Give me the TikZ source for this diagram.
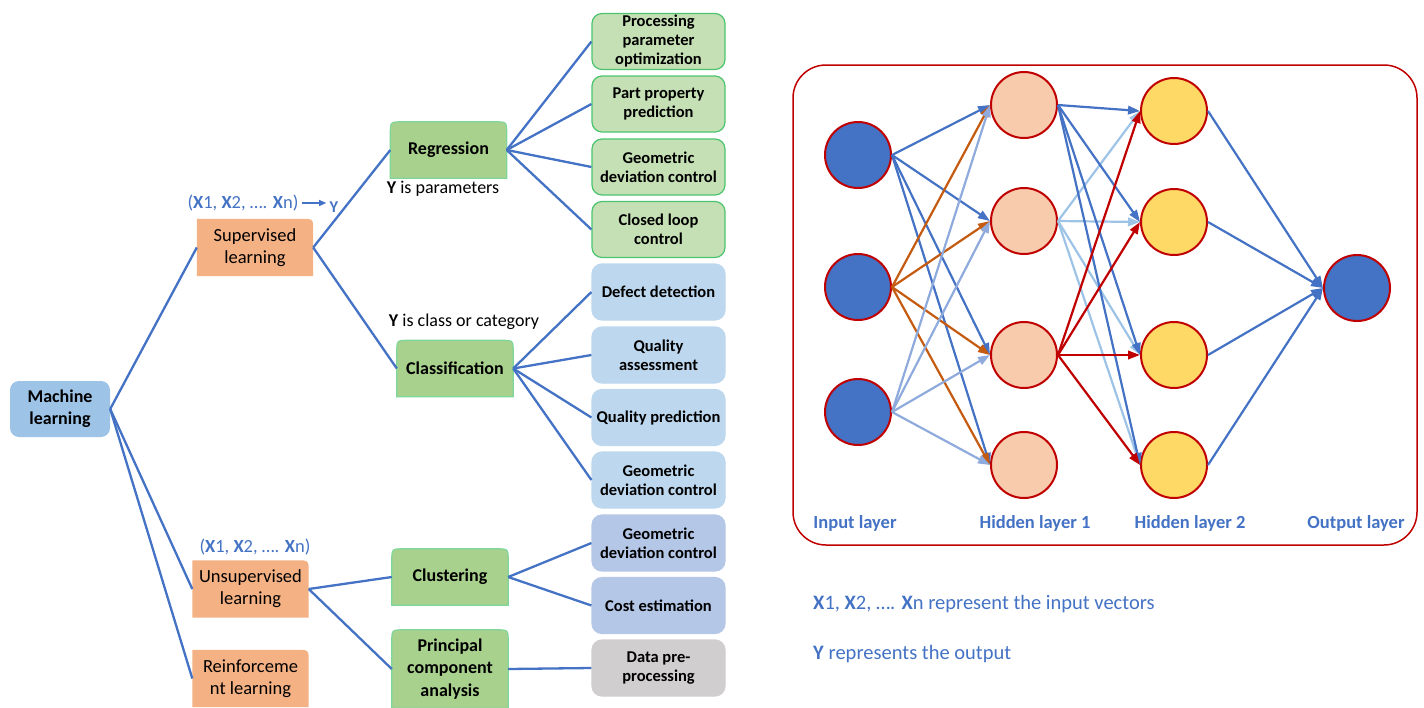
\documentclass[tikz,border=0pt]{standalone}
\usepackage{fontspec}
\setmainfont{Carlito}
\usetikzlibrary{arrows.meta,backgrounds}

\definecolor{lineblue}{HTML}{4472C4}
\definecolor{mlblue}{HTML}{9DC3E6}
\definecolor{supor}{HTML}{F4B183}
\definecolor{midgreen}{HTML}{A9D18E}
\definecolor{midedge}{HTML}{7ED69A}
\definecolor{leafgreen}{HTML}{C5E0B4}
\definecolor{leafedge}{HTML}{4CC46F}
\definecolor{leafblue}{HTML}{BDD7EE}
\definecolor{leafblueb}{HTML}{B4C7E7}
\definecolor{leafgrey}{HTML}{D0CECE}
\definecolor{nnred}{HTML}{C00000}
\definecolor{nnorange}{HTML}{C55A11}
\definecolor{nnlight}{HTML}{8FAADC}
\definecolor{nnpale}{HTML}{9DC3E6}
\definecolor{hidA}{HTML}{F8CBAD}
\definecolor{hidB}{HTML}{FFD966}

\tikzset{
  mlbox/.style={fill=mlblue, rounded corners=9pt, minimum width=100pt, minimum height=56pt,
    align=center, inner sep=0pt, font=\fontsize{18}{22}\selectfont\bfseries},
  learnbox/.style={minimum width=116pt, minimum height=57pt, align=center, inner sep=0pt,
    font=\fontsize{18.5}{22}\selectfont},
  midbox/.style={minimum width=116pt, minimum height=56pt, align=center, inner sep=0pt,
    font=\fontsize{18}{22.5}\selectfont\bfseries},
  leaf/.style={draw=leafedge, fill=leafgreen, rounded corners=10pt, line width=1.2pt,
    minimum width=133pt, minimum height=56pt, align=center, inner xsep=2pt, inner ysep=0pt,
    font=\fontsize{16.5}{19}\selectfont\bfseries},
  link/.style={draw=lineblue, line width=2.3pt},
  vecnote/.style={text=lineblue, font=\fontsize{18.5}{21}\selectfont},
  ynote/.style={font=\fontsize{18}{21}\selectfont},
  neuron/.style={circle, draw=nnred, line width=2pt, minimum size=66pt, inner sep=0pt},
  syn/.style={draw, line width=2.2pt, -{Triangle[length=12pt,width=8.5pt]}},
  layerlab/.style={text=lineblue, font=\fontsize{18.5}{22}\selectfont\bfseries},
  note/.style={anchor=west, inner sep=0pt, text=lineblue, font=\fontsize{20.5}{24}\selectfont}
}

% orange box: only the top right corner is round
\newcommand{\tabcorner}[1]{%
  \fill[supor] (#1.south west) -- (#1.north west) -- ([xshift=-12pt]#1.north east)
    .. controls (#1.north east) .. ([yshift=-12pt]#1.north east) -- (#1.south east) -- cycle;}
% green box: round top corners
\newcommand{\tabtop}[1]{%
  \filldraw[fill=midgreen, draw=midedge, line width=1.2pt] (#1.south west)
    -- ([yshift=-12pt]#1.north west) .. controls (#1.north west) .. ([xshift=12pt]#1.north west)
    -- ([xshift=-12pt]#1.north east) .. controls (#1.north east) .. ([yshift=-12pt]#1.north east)
    -- (#1.south east) -- cycle;}

\begin{document}
\begin{tikzpicture}[x=1pt,y=-1pt]
  \useasboundingbox (0,0) rectangle (1424,707);

  % learning tree
  \node[mlbox] (ml) at (60,409) {Machine\\learning};

  \begin{scope}[every node/.style={learnbox}]
    \node (sup) at (255,247.5) {Supervised\\learning};
    \node (uns) at (250.5,589) {Unsupervised\\learning};
    \node (rei) at (250.5,678.5) {Reinforceme\\nt learning};
  \end{scope}

  \begin{scope}[every node/.style={midbox}]
    \node (reg) at (448.5,150) {Regression};
    \node (cls) at (455,368.5) {Classification};
    \node (clu) at (450,577) {Clustering};
    \node[minimum height=78pt] (pca) at (450,669) {Principal\\component\\analysis};
  \end{scope}

  \begin{scope}[every node/.style={leaf}]
    \node (ppo)  at (658.5,41.5)  {Processing\\parameter\\optimization};
    \node (ppp)  at (658.5,104)   {Part property\\prediction};
    \node (gdcA) at (658.5,167)   {Geometric\\deviation control};
    \node (clc)  at (658.5,229.5) {Closed loop\\control};
    \node[fill=leafblue,draw=leafblue]  (dd)   at (658.5,292)   {Defect detection};
    \node[fill=leafblue,draw=leafblue]  (qa)   at (658.5,355)   {Quality\\assessment};
    \node[fill=leafblue,draw=leafblue]  (qp)   at (658.5,417.5) {Quality prediction};
    \node[fill=leafblue,draw=leafblue]  (gdcB) at (658.5,480)   {Geometric\\deviation control};
    \node[fill=leafblueb,draw=leafblueb] (gdcC) at (658.5,543)   {Geometric\\deviation control};
    \node[fill=leafblueb,draw=leafblueb] (ce)   at (658.5,605.5) {Cost estimation};
    \node[fill=leafgrey,draw=leafgrey]  (dpp)  at (658.5,668)   {Data pre-\\processing};
  \end{scope}

  \begin{scope}[on background layer]
    \tabcorner{sup}
    \tabcorner{uns}
    \tabcorner{rei}
    \tabtop{reg}
    \tabtop{cls}
    \tabtop{clu}
    \tabtop{pca}
  \end{scope}

  \node[vecnote] (xsup) at (243,203) {(\textbf{X}1, \textbf{X}2, …. \textbf{X}n)};
  \node[vecnote, font=\fontsize{16.5}{20}\selectfont\bfseries] (ysup) at (334,207.5) {Y};
  \draw[lineblue, line width=1.2pt, -{Triangle[length=7pt,width=6pt]}]
    (xsup.east) -- (xsup.east -| ysup.west);
  \node[vecnote] (xuns) at (255,547) {(\textbf{X}1, \textbf{X}2, …. \textbf{X}n)};
  \node[ynote] (ypar) at (443,189) {\textbf{Y} is parameters};
  \node[ynote] (ycls) at (464,322) {\textbf{Y} is class or category};

  \begin{scope}[every edge/.style={link}]
    \path (ml.east)  edge (sup.west);
    \path (ml.east)  edge (uns.west);
    \path (ml.east)  edge (rei.west);
    \path (sup.east) edge (reg.west);
    \path (sup.east) edge (cls.west);
    \path (reg.east) edge (ppo.west);
    \path (reg.east) edge (ppp.west);
    \path (reg.east) edge (gdcA.west);
    \path (reg.east) edge (clc.west);
    \path (cls.east) edge (dd.west);
    \path (cls.east) edge (qa.west);
    \path (cls.east) edge (qp.west);
    \path (cls.east) edge (gdcB.west);
    \path (uns.east) edge (clu.west);
    \path (uns.east) edge (pca.west);
    \path (clu.east) edge (gdcC.west);
    \path (clu.east) edge (ce.west);
    \path (pca.east) edge (dpp.west);
  \end{scope}

  % neural network
  \draw[nnred, line width=1.5pt, rounded corners=33pt] (793,65) rectangle (1417,545);

  \begin{scope}[every node/.style={neuron}]
    \node[fill=lineblue] (i1) at (858,155) {};
    \node[fill=lineblue] (i2) at (858,287) {};
    \node[fill=lineblue] (i3) at (858,412) {};
    \node[fill=hidA] (h1) at (1024,105) {};
    \node[fill=hidA] (h2) at (1024,221) {};
    \node[fill=hidA] (h3) at (1024,355) {};
    \node[fill=hidA] (h4) at (1024,465) {};
    \node[fill=hidB] (g1) at (1174,111) {};
    \node[fill=hidB] (g2) at (1174,222) {};
    \node[fill=hidB] (g3) at (1174,355) {};
    \node[fill=hidB] (g4) at (1174,465) {};
    \node[fill=lineblue] (o) at (1357,288) {};
  \end{scope}

  \begin{scope}[every edge/.style={syn}]
    \begin{scope}[lineblue]
      \path (i1.east) edge (h1.west);
      \path (i1.east) edge (h2.west);
      \path (i1.east) edge (h3.west);
      \path (i1.east) edge (h4.west);
    \end{scope}
    \begin{scope}[nnorange]
      \path (i2.east) edge (h1.west);
      \path (i2.east) edge (h2.west);
      \path (i2.east) edge (h3.west);
      \path (i2.east) edge (h4.west);
    \end{scope}
    \begin{scope}[nnlight]
      \path (i3.east) edge (h1.west);
      \path (i3.east) edge (h2.west);
      \path (i3.east) edge (h3.west);
      \path (i3.east) edge (h4.west);
    \end{scope}
    \begin{scope}[nnpale]
      \path (h2.east) edge (g1.west);
      \path (h2.east) edge (g2.west);
      \path (h2.east) edge (g3.west);
      \path (h2.east) edge (g4.west);
    \end{scope}
    \begin{scope}[lineblue]
      \path (h1.east) edge (g1.west);
      \path (h1.east) edge (g2.west);
      \path (h1.east) edge (g3.west);
      \path (h1.east) edge (g4.west);
    \end{scope}
    \begin{scope}[nnred]
      \path (h3.east) edge (g1.west);
      \path (h3.east) edge (g2.west);
      \path (h3.east) edge (g3.west);
      \path (h3.east) edge (g4.west);
    \end{scope}
    \begin{scope}[lineblue]
      \path (g1.east) edge (o.west);
      \path (g2.east) edge (o.west);
      \path (g3.east) edge (o.west);
      \path (g4.east) edge (o.west);
    \end{scope}
  \end{scope}

  \begin{scope}[every node/.style={layerlab}]
    \node (lin)  at (855,523)  {Input layer};
    \node (lhA)  at (1035,523) {Hidden layer 1};
    \node (lhB)  at (1190,523) {Hidden layer 2};
    \node (lout) at (1356,523) {Output layer};
  \end{scope}

  \node[note] (notex) at (813,604) {\textbf{X}1, \textbf{X}2, …. \textbf{X}n represent the input vectors};
  \node[note] (notey) at (813,654) {\textbf{Y} represents the output};
\end{tikzpicture}
\end{document}
